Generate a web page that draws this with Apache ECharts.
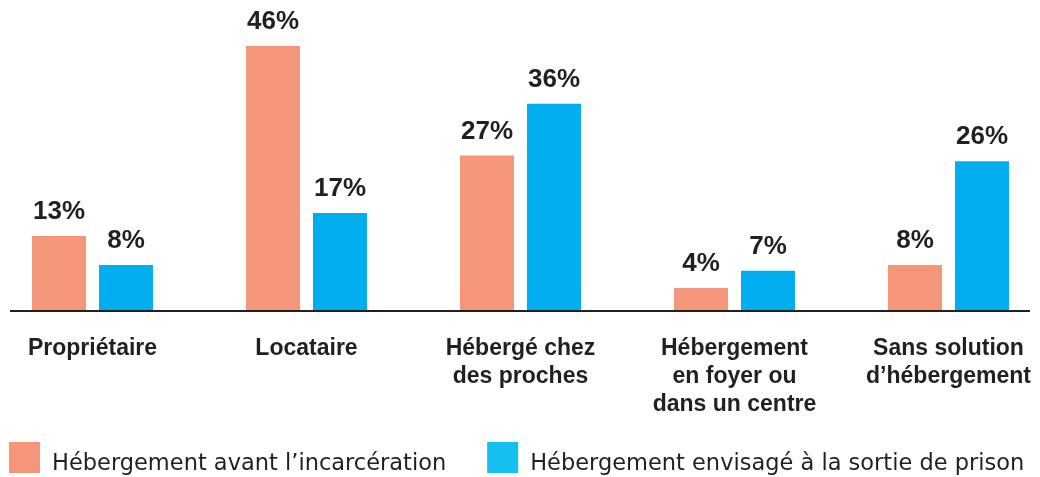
<!DOCTYPE HTML>
<html>
	<head>
		<meta http-equiv="Content-type" content="text/html; charset=UTF-8" />
		<script type="text/javascript" src="https://cdn.jsdelivr.net/npm/echarts@6/dist/echarts.min.js"></script>
		<style>
			html, body { margin: 0; padding: 0; background: #fff; }
		</style>
	</head>
	<body>
		<div id="div_1" style="width: 1040px;height:477px;"></div>
		<script type="text/javascript">
			var categories = ['Propriétaire', 'Locataire', 'Hébergé chez\ndes proches', 'Hébergement\nen foyer ou\ndans un centre', 'Sans solution\nd\u2019hébergement'];
			var avant = [13, 46, 27, 4, 8];
			var sortie = [8, 17, 36, 7, 26];
			var seriesNames = ['Hébergement avant l\u2019incarcération', 'Hébergement envisagé à la sortie de prison'];

			var ink = '#231f20';
			var font = '"Liberation Sans", Arial, sans-serif';

			var barLabel = {
				show: true,
				position: 'top',
				distance: 11,
				formatter: '{c}%',
				color: ink,
				fontFamily: font,
				fontWeight: 'bold',
				fontSize: 26
			};

			var option = {
				animation: false,
				textStyle: { fontFamily: font },
				grid: { left: -14.5, right: -15.5, top: 23, bottom: 166, outerBoundsMode: 'none' },
				legend: {
					left: 9,
					top: 442,
					padding: 0,
					itemWidth: 31,
					itemHeight: 31,
					itemGap: 41,
					icon: 'rect',
					formatter: '{t|{name}}',
					textStyle: {
						color: ink,
						fontSize: 22.5,
						fontFamily: '"DejaVu Sans", sans-serif',
						rich: {
							t: {
								color: ink,
								fontSize: 22.5,
								fontFamily: '"DejaVu Sans", sans-serif',
								padding: [14, 0, 0, 7]
							}
						}
					},
					data: [
						{ name: seriesNames[0], itemStyle: { color: '#f5967a' } },
						{ name: seriesNames[1], itemStyle: { color: '#14c0f0' } }
					]
				},
				xAxis: {
					type: 'category',
					data: categories,
					axisLine: { show: false },
					axisTick: { show: false },
					axisLabel: {
						interval: 0,
						margin: 24,
						color: ink,
						fontFamily: font,
						fontWeight: 'bold',
						fontSize: 23,
						lineHeight: 28
					}
				},
				yAxis: {
					type: 'value',
					min: 0,
					max: 50,
					show: false,
					splitLine: { show: false }
				},
				graphic: [{
					type: 'line',
					shape: { x1: 10, y1: 311, x2: 1030, y2: 311 },
					style: { stroke: ink, lineWidth: 2 },
					z: 10
				}],
				series: [{
					name: seriesNames[0],
					type: 'bar',
					data: avant,
					barWidth: 54,
					barGap: '24%',
					itemStyle: { color: '#f4967a' },
					label: barLabel
				}, {
					name: seriesNames[1],
					type: 'bar',
					data: sortie,
					barWidth: 54,
					itemStyle: { color: '#00aeef' },
					label: barLabel
				}]
			};

			var myChart = echarts.init(document.getElementById("div_1"));
			myChart.setOption(option);
		</script>
	</body>
</html>
